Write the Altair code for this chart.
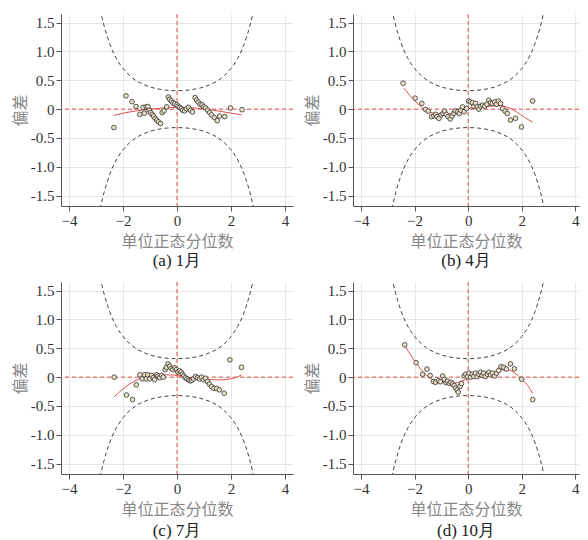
import altair as alt
import pandas as pd

# Confidence band of the worm plot
band_z = [-2.9, -2.85, -2.8, -2.75, -2.7, -2.6, -2.5, -2.25, -2.0, -1.75, -1.5, -1.25, -1.0, -0.75, -0.5, -0.25, 0.0,
          0.25, 0.5, 0.75, 1.0, 1.25, 1.5, 1.75, 2.0, 2.25, 2.5, 2.6, 2.7, 2.75, 2.8, 2.85, 2.9]
band_hi = [1.85, 1.73, 1.63, 1.53, 1.44, 1.28, 1.14, 0.88, 0.705, 0.58, 0.49, 0.43, 0.385, 0.355, 0.335, 0.324, 0.32,
           0.324, 0.335, 0.355, 0.385, 0.43, 0.49, 0.58, 0.705, 0.88, 1.14, 1.28, 1.44, 1.53, 1.63, 1.73, 1.85]
band_lo = [-1.85, -1.73, -1.63, -1.53, -1.44, -1.28, -1.14, -0.88, -0.705, -0.58, -0.49, -0.43, -0.385, -0.355, -0.335, -0.324, -0.32,
           -0.324, -0.335, -0.355, -0.385, -0.43, -0.49, -0.58, -0.705, -0.88, -1.14, -1.28, -1.44, -1.53, -1.63, -1.73, -1.85]

x_ticks = [-4, -2, 0, 2, 4]
y_ticks = [-1.5, -1.0, -0.5, 0, 0.5, 1.0, 1.5]

# (a) 1月
a_z = [-2.34, -1.89, -1.67, -1.52, -1.38, -1.26, -1.21, -1.14, -1.08, -1.03, -0.98, -0.92, -0.87, -0.81, -0.75, -0.69,
       -0.61, -0.55, -0.48, -0.38, -0.32, -0.27, -0.21, -0.15, -0.09, -0.01, 0.04, 0.10, 0.16, 0.21, 0.28, 0.35, 0.43,
       0.50, 0.57, 0.67, 0.73, 0.79, 0.86, 0.93, 0.99, 1.06, 1.14, 1.21, 1.28, 1.38, 1.49, 1.58, 1.77, 1.98, 2.41]
a_d = [-0.32, 0.23, 0.13, 0.045, -0.09, 0.03, -0.07, 0.04, 0.045, -0.02, -0.06, -0.09, -0.12, -0.16, -0.19, -0.22,
       -0.25, -0.06, -0.03, 0.04, 0.21, 0.17, 0.14, 0.11, 0.09, 0.075, 0.05, 0.03, 0.01, -0.02, -0.03, 0.005, 0.03,
       -0.02, -0.05, 0.20, 0.155, 0.12, 0.085, 0.075, 0.04, 0.02, -0.02, -0.06, -0.10, -0.145, -0.20, -0.12, -0.13, 0.02, -0.01]
a_fz = [-2.35, -2.0, -1.5, -1.0, -0.5, 0.0, 0.5, 1.0, 1.5, 2.0, 2.4]
a_fd = [-0.11, -0.07, -0.03, 0.0, 0.02, 0.03, 0.025, 0.005, -0.03, -0.07, -0.1]

# (b) 4月
b_z = [-2.43, -1.98, -1.73, -1.59, -1.49, -1.37, -1.28, -1.21, -1.16, -1.09, -1.01, -0.94, -0.88, -0.82, -0.75, -0.67,
       -0.60, -0.53, -0.48, -0.39, -0.33, -0.27, -0.21, -0.15, -0.06, 0.01, 0.08, 0.16, 0.21, 0.28, 0.34, 0.40, 0.47,
       0.54, 0.62, 0.70, 0.77, 0.84, 0.91, 0.99, 1.06, 1.13, 1.21, 1.29, 1.38, 1.46, 1.58, 1.77, 1.99, 2.41]
b_d = [0.45, 0.19, 0.10, -0.005, -0.035, -0.13, -0.115, -0.09, -0.13, -0.16, -0.10, -0.075, -0.035, -0.09, -0.13, -0.17,
       -0.12, -0.075, -0.03, -0.045, -0.075, -0.02, 0.04, -0.045, 0.01, 0.14, 0.125, 0.11, 0.05, 0.10, 0.04, 0.0, 0.05,
       0.07, 0.05, 0.085, 0.155, 0.11, 0.10, 0.125, 0.085, 0.14, 0.10, 0.01, -0.035, -0.075, -0.19, -0.16, -0.31, 0.14]
b_fz = [-2.4, -1.95, -1.46, -0.98, -0.37, 0.0, 0.61, 1.22, 1.59, 2.07, 2.41]
b_fd = [0.365, 0.125, -0.045, -0.085, -0.06, 0.01, 0.04, 0.06, 0.01, -0.13, -0.23]

# (c) 7月
c_z = [-2.33, -1.87, -1.65, -1.51, -1.37, -1.29, -1.20, -1.14, -1.08, -1.01, -0.94, -0.88, -0.83, -0.76, -0.70, -0.64,
       -0.57, -0.51, -0.44, -0.39, -0.33, -0.27, -0.21, -0.15, -0.08, -0.02, 0.03, 0.09, 0.15, 0.20, 0.25, 0.31, 0.37,
       0.43, 0.49, 0.55, 0.61, 0.69, 0.76, 0.83, 0.91, 0.98, 1.06, 1.13, 1.20, 1.28, 1.37, 1.47, 1.57, 1.75, 1.96, 2.39]
c_d = [0.0, -0.31, -0.39, -0.135, 0.04, -0.03, 0.04, -0.03, 0.04, -0.03, 0.03, -0.01, -0.045, 0.04, 0.02, -0.01,
       0.03, 0.0, 0.13, 0.17, 0.23, 0.19, 0.15, 0.13, 0.16, 0.13, 0.09, 0.11, 0.09, 0.05, 0.02, -0.01, -0.03,
       -0.05, -0.065, -0.055, -0.03, 0.01, -0.01, -0.03, 0.0, -0.045, -0.02, -0.075, -0.12, -0.165, -0.195, -0.195,
       -0.22, -0.28, 0.30, 0.17]
c_fz = [-2.33, -1.96, -1.6, -1.23, -0.74, -0.25, 0.25, 0.98, 1.6, 2.09, 2.39]
c_fd = [-0.34, -0.19, -0.075, 0.0, 0.04, 0.04, 0.01, -0.035, -0.047, -0.02, 0.04]

# (d) 10月
d_z = [-2.37, -1.94, -1.70, -1.54, -1.42, -1.30, -1.22, -1.11, -1.04, -0.95, -0.89, -0.83, -0.77, -0.70, -0.64, -0.58,
       -0.52, -0.47, -0.41, -0.37, -0.30, -0.25, -0.15, -0.09, -0.02, 0.03, 0.09, 0.15, 0.21, 0.27, 0.33, 0.40, 0.46,
       0.52, 0.58, 0.64, 0.72, 0.78, 0.84, 0.91, 0.99, 1.06, 1.14, 1.23, 1.33, 1.43, 1.58, 1.73, 2.00, 2.41]
d_d = [0.56, 0.25, 0.05, 0.14, 0.03, -0.075, -0.09, -0.06, -0.08, 0.02, -0.04, -0.095, -0.07, -0.11, -0.09, -0.12,
       -0.145, -0.19, -0.22, -0.26, -0.16, -0.11, 0.02, 0.05, 0.01, 0.07, 0.0, 0.05, 0.01, 0.07, 0.01, 0.05, 0.085,
       0.03, 0.07, 0.01, 0.05, 0.085, 0.04, 0.07, 0.02, 0.07, 0.115, 0.18, 0.17, 0.14, 0.23, 0.145, -0.035, -0.39]
d_fz = [-2.38, -2.07, -1.7, -1.33, -0.84, -0.47, -0.1, 0.27, 0.89, 1.26, 1.5, 1.75, 2.0, 2.25, 2.4]
d_fd = [0.56, 0.33, 0.1, -0.045, -0.1, -0.1, -0.045, 0.0, 0.06, 0.125, 0.125, 0.07, -0.035, -0.16, -0.28]

SERIF = "Liberation Serif"
SANS = "Noto Sans CJK SC"
RED = "#e0504a"


def panel(pz, pdv, fz, fd, label, xdom, w, toff):
    xs = alt.Scale(domain=xdom, nice=False, zero=False)
    ys = alt.Scale(domain=[-1.68, 1.65], nice=False, zero=False)
    common = dict(grid=True, labelFont=SERIF, labelFontSize=15, labelColor="#333", labelPadding=2,
                  titleFont=SANS, titleFontSize=16, titleColor="#888", titleFontWeight="normal",
                  tickSize=5, domainColor="#555", tickColor="#555", gridColor="#e6e6e6")
    xax = alt.Axis(values=x_ticks, title="单位正态分位数", titlePadding=5, **common)
    yax = alt.Axis(values=y_ticks, title="偏差", titlePadding=2,
                   labelExpr="datum.value == 0 ? '0' : replace(format(datum.value, '.1f'), '\u2212', '-')",
                   **common)
    X = alt.X("z:Q", scale=xs, axis=xax)
    Y = alt.Y("d:Q", scale=ys, axis=yax)

    band = pd.DataFrame({"z": band_z, "hi": band_hi, "lo": band_lo})
    up = alt.Chart(band).mark_line(clip=True, strokeDash=[4, 3], color="#444", strokeWidth=1,
                                   interpolate="monotone").encode(x=X, y=alt.Y("hi:Q", scale=ys, axis=yax))
    lo = alt.Chart(band).mark_line(clip=True, strokeDash=[4, 3], color="#444", strokeWidth=1,
                                   interpolate="monotone").encode(x=X, y=alt.Y("lo:Q", scale=ys, axis=yax))
    zero = pd.DataFrame({"z": [0], "d": [0]})
    hr = alt.Chart(zero).mark_rule(color=RED, strokeDash=[4, 3], strokeWidth=1).encode(y=Y)
    vr = alt.Chart(zero).mark_rule(color=RED, strokeDash=[4, 3], strokeWidth=1).encode(x=X)
    fit = alt.Chart(pd.DataFrame({"z": fz, "d": fd})).mark_line(color=RED, strokeWidth=1,
                                                                 interpolate="monotone").encode(x=X, y=Y)
    pts = alt.Chart(pd.DataFrame({"z": pz, "d": pdv})).mark_circle(
        size=22, color="#e9dfc3", stroke="#333", strokeWidth=0.8, opacity=1).encode(x=X, y=Y)
    return alt.layer(hr, vr, up, lo, fit, pts).properties(
        width=w, height=192,
        title=alt.TitleParams(label, orient="bottom", font=SERIF, fontSize=17, fontWeight="normal",
                              color="#222", offset=toff))


pa = panel(a_z, a_d, a_fz, a_fd, "(a) 1月", [-4.3, 4.3], 232, 4)
pb = panel(b_z, b_d, b_fz, b_fd, "(b) 4月", [-4.3, 4.14], 226, 4)
pc = panel(c_z, c_d, c_fz, c_fd, "(c) 7月", [-4.3, 4.3], 232, 6)
pdd = panel(d_z, d_d, d_fz, d_fd, "(d) 10月", [-4.3, 4.14], 226, 6)

chart = alt.vconcat(
    alt.hconcat(pa, pb, spacing=10),
    alt.hconcat(pc, pdd, spacing=10),
    spacing=12,
).properties(
    padding={"left": 4, "top": 5, "right": 0, "bottom": 0}
).configure_view(stroke=None)

chart.save("out.html", embed_options={"renderer": "svg", "actions": False})
